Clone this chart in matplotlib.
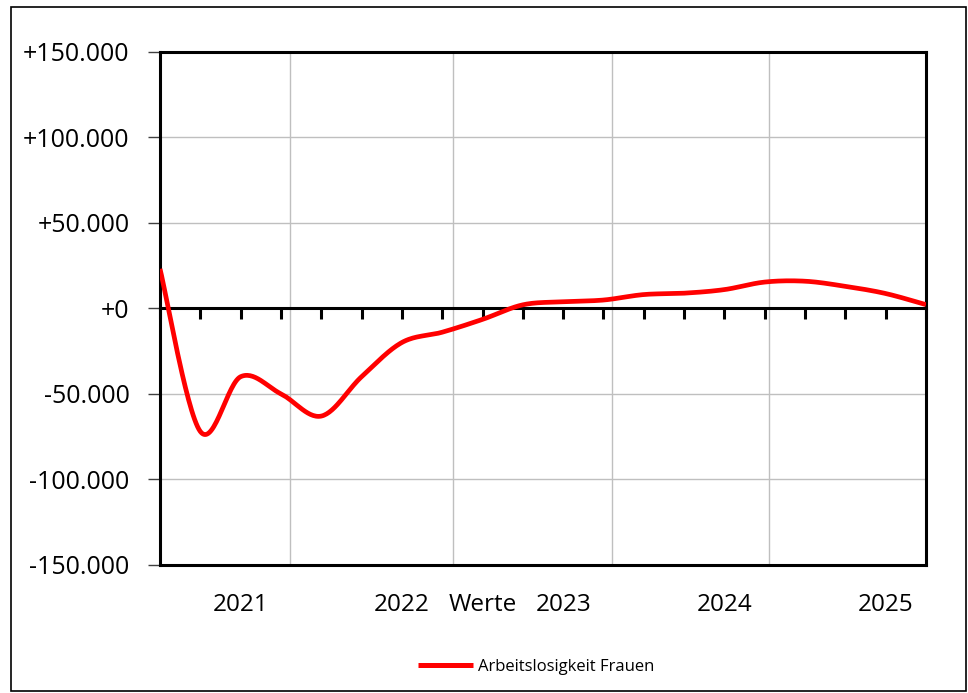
import numpy as np
import matplotlib
matplotlib.use("Agg")
import matplotlib.pyplot as plt
from matplotlib.patches import Rectangle
from matplotlib.transforms import blended_transform_factory

# Quarterly change in female unemployment (absolute values)
values = [23000, -72000, -40000, -50000, -63000, -40000, -20000, -14000,
          -6500, 2000, 3800, 4800, 8000, 8800, 10900, 15300, 15800,
          12800, 8600, 2100]
series_name = "Arbeitslosigkeit Frauen"
year_labels = ["2021", "2022", "2023", "2024", "2025"]
year_label_pos = [2, 6, 10, 14, 18]
axis_title = "Werte"
axis_title_pos = 8
year_grid_pos = [3.22, 7.26, 11.2, 15.11]
ytick_values = [-150000, -100000, -50000, 0, 50000, 100000, 150000]
ytick_labels = ["-150.000", "-100.000", "-50.000", "+0",
                "+50.000", "+100.000", "+150.000"]

FONT = ["Open Sans", "DejaVu Sans"]
plt.rcParams["font.family"] = FONT


def smooth_curve(y, steps=30):
    """Bezier smoothing through every point (Catmull-Rom style)."""
    y = np.asarray(y, dtype=float)
    x = np.arange(len(y), dtype=float)
    xs, ys = [], []
    n = len(y)
    for i in range(n - 1):
        p0 = (x[max(i - 1, 0)], y[max(i - 1, 0)])
        p1 = (x[i], y[i])
        p2 = (x[i + 1], y[i + 1])
        p3 = (x[min(i + 2, n - 1)], y[min(i + 2, n - 1)])
        c1 = (p1[0] + (p2[0] - p0[0]) / 6, p1[1] + (p2[1] - p0[1]) / 6)
        c2 = (p2[0] - (p3[0] - p1[0]) / 6, p2[1] - (p3[1] - p1[1]) / 6)
        t = np.linspace(0, 1, steps, endpoint=(i == n - 2))
        b0 = (1 - t) ** 3
        b1 = 3 * (1 - t) ** 2 * t
        b2 = 3 * (1 - t) * t ** 2
        b3 = t ** 3
        xs.append(b0 * p1[0] + b1 * c1[0] + b2 * c2[0] + b3 * p2[0])
        ys.append(b0 * p1[1] + b1 * c1[1] + b2 * c2[1] + b3 * p2[1])
    return np.concatenate(xs), np.concatenate(ys)


fig = plt.figure(figsize=(9.68, 6.93), dpi=100)
ax = fig.add_axes([160 / 968, 1 - 565 / 693, 766 / 968, (565 - 51.5) / 693])

n = len(values)
ax.set_xlim(0, n - 1)
ax.set_ylim(-150000, 150000)

# grid
for v in ytick_values[1:-1]:
    if v != 0:
        ax.axhline(v, color="#bfbfbf", lw=1.0, zorder=1)
for gx in year_grid_pos:
    ax.axvline(gx, color="#bfbfbf", lw=1.0, zorder=1)

# series
sx, sy = smooth_curve(values)
line, = ax.plot(sx, sy, color="#ff0000", lw=3.4, solid_capstyle="butt",
                zorder=4, label=series_name)

# category axis drawn along the zero line
ax.spines["bottom"].set_position(("data", 0))
ax.spines["bottom"].set_linewidth(2.2)
ax.spines["bottom"].set_zorder(3)
ax.set_xticks(np.arange(n))
ax.tick_params(axis="x", direction="out", length=8, width=2.2,
               color="black", labelbottom=False)

# plot-area frame
for side in ("left", "top", "right"):
    ax.spines[side].set_linewidth(2.2)
    ax.spines[side].set_color("black")
ax.axhline(-150000, color="black", lw=2.2, clip_on=False, zorder=5)

# value axis
ax.set_yticks(ytick_values)
ax.set_yticklabels(ytick_labels)
ax.tick_params(axis="y", direction="out", length=9, width=1,
               color="#404040", pad=13, labelsize=18)

# year labels and axis title below the plot area
trans = blended_transform_factory(ax.transData, ax.transAxes)
for pos, lab in zip(year_label_pos, year_labels):
    ax.text(pos, -40 / 513.5, lab, transform=trans, ha="center",
            va="center", fontsize=17.5)
ax.text(axis_title_pos, -40 / 513.5, axis_title, transform=trans,
        ha="center", va="center", fontsize=17.5)

# legend
leg = fig.legend(handles=[line], loc="center", frameon=False,
                 bbox_to_anchor=(536 / 968, 1 - 667 / 693),
                 fontsize=12, handlelength=3.3, handletextpad=0.3)
for h in leg.get_lines():
    h.set_linewidth(3.6)

# figure frame
fig.patches.append(Rectangle((11 / 968, 1 - 691 / 693), 955 / 968,
                             684 / 693, transform=fig.transFigure,
                             fill=False, edgecolor="black", lw=1.2))

fig.savefig("out.png", dpi=100)
